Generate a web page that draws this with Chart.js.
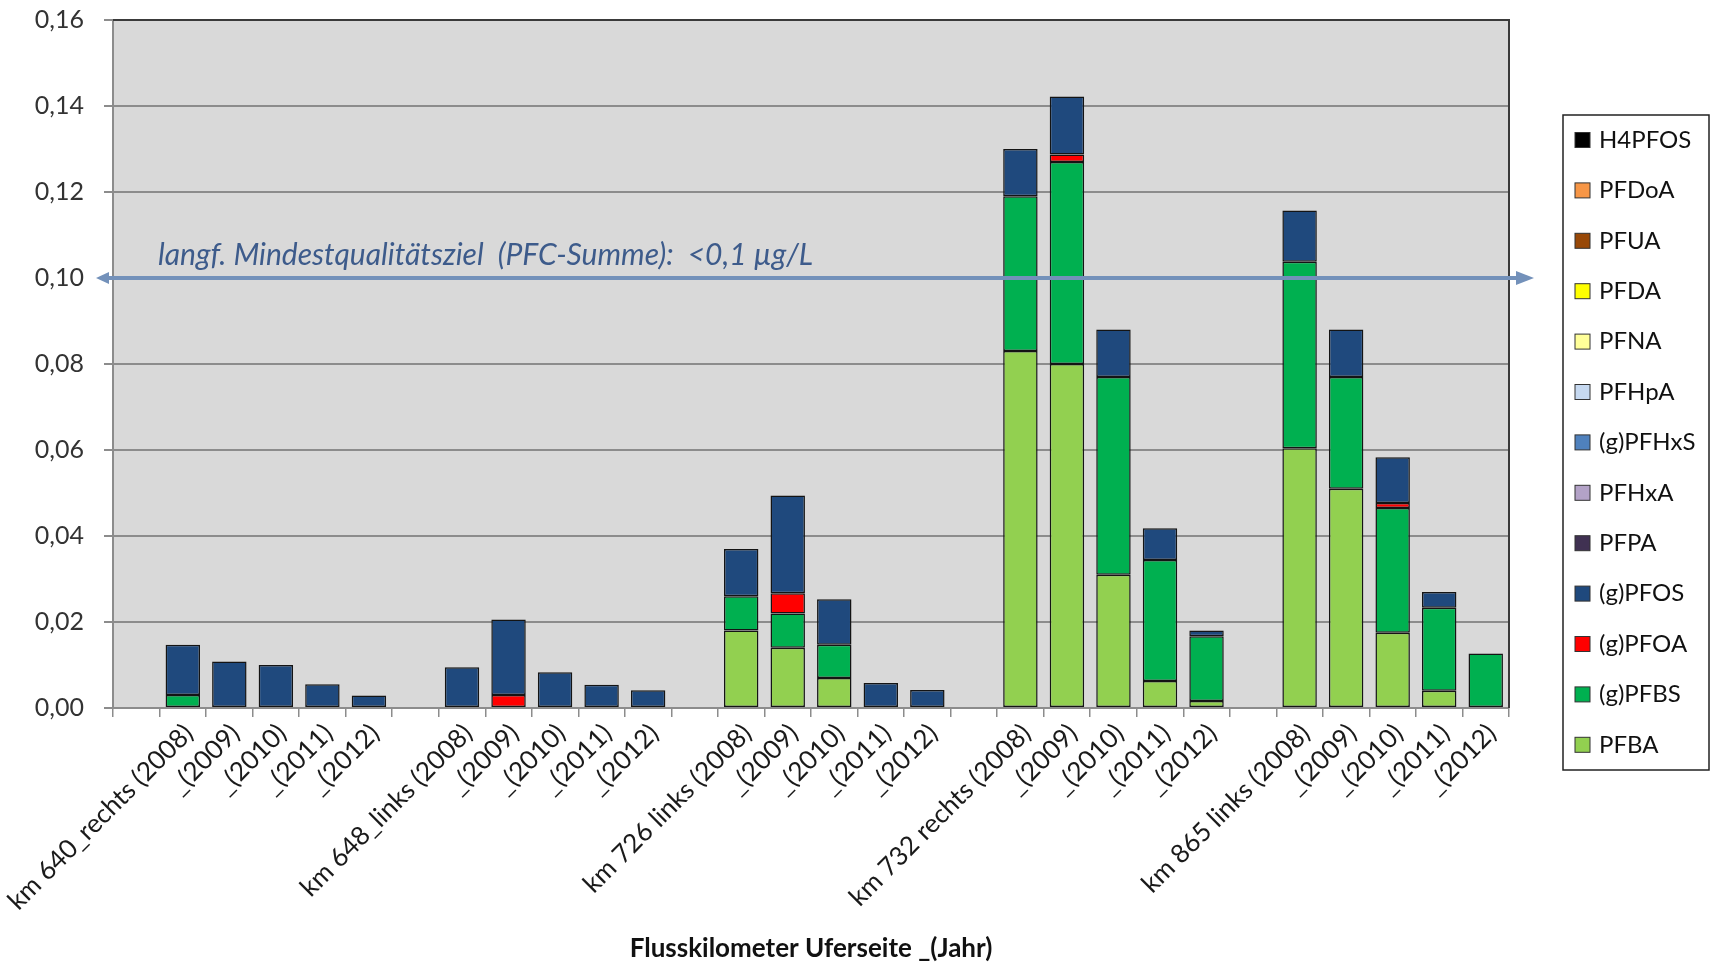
<!DOCTYPE html>
<html>
<head>
<meta charset="utf-8">
<script src="https://cdn.jsdelivr.net/npm/chart.js@4.4.1/dist/chart.umd.min.js"></script>
<style>
  html, body { margin: 0; padding: 0; background: #ffffff; }
  #wrap { width: 1712px; height: 966px; position: relative; }
</style>
</head>
<body>
<div id="wrap"><canvas id="c" width="1712" height="966"></canvas></div>
<script>
// ---------- DATA ----------
const categories = [
  "",
  "km 640_rechts (2008)", "_(2009)", "_(2010)", "_(2011)", "_(2012)",
  "",
  "km 648_links (2008)", "_(2009)", "_(2010)", "_(2011)", "_(2012)",
  "",
  "km 726 links (2008)", "_(2009)", "_(2010)", "_(2011)", "_(2012)",
  "",
  "km 732 rechts (2008)", "_(2009)", "_(2010)", "_(2011)", "_(2012)",
  "",
  "km 865 links (2008)", "_(2009)", "_(2010)", "_(2011)", "_(2012)"
];

const PFBA = [null,
  null, null, null, null, null, null,
  null, null, null, null, null, null,
  0.018, 0.014, 0.007, null, null, null,
  0.083, 0.080, 0.031, 0.0063, 0.0016, null,
  0.0604, 0.051, 0.0175, 0.004, null];

const gPFBS = [null,
  0.003, null, null, null, null, null,
  null, null, null, null, null, null,
  0.008, 0.008, 0.0077, null, null, null,
  0.036, 0.047, 0.046, 0.0281, 0.0151, null,
  0.0434, 0.026, 0.029, 0.0193, 0.0127];

const gPFOA = [null,
  null, null, null, null, null, null,
  null, 0.003, null, null, null, null,
  null, 0.0047, null, null, null, null,
  null, 0.0017, null, null, null, null,
  null, null, 0.0012, null, null];

const gPFOS = [null,
  0.0117, 0.0108, 0.0100, 0.0055, 0.0029, null,
  0.0095, 0.0176, 0.0083, 0.0054, 0.0041, null,
  0.011, 0.0227, 0.0106, 0.0058, 0.0042, null,
  0.011, 0.0135, 0.011, 0.0074, 0.0013, null,
  0.0119, 0.011, 0.0106, 0.0037, null];

// substances with no visible contribution in the chart
const PFPA = [];
const PFHxA = [];
const gPFHxS = [];
const PFHpA = [];
const PFNA = [];
const PFDA = [];
const PFUA = [];
const PFDoA = [];
const H4PFOS = [];

const seriesNames = ["PFBA", "(g)PFBS", "(g)PFOA", "(g)PFOS", "PFPA", "PFHxA", "(g)PFHxS",
                     "PFHpA", "PFNA", "PFDA", "PFUA", "PFDoA", "H4PFOS"];
const seriesData = [PFBA, gPFBS, gPFOA, gPFOS, PFPA, PFHxA, gPFHxS, PFHpA, PFNA, PFDA, PFUA, PFDoA, H4PFOS];
const seriesColors = ["#92d050", "#00b050", "#ff0000", "#1f497d", "#403152", "#b3a2c7", "#4f81bd",
                      "#c6d9f1", "#ffff99", "#ffff00", "#984807", "#f79646", "#000000"];

const yMin = 0, yMax = 0.16, yStep = 0.02;
const thresholdValue = 0.10;
const thresholdText = "langf. Mindestqualitätsziel  (PFC-Summe):  <0,1 µg/L";
const xTitle = "Flusskilometer Uferseite _(Jahr)";

// ---------- CHART ----------
const FONT = "Lato, 'Open Sans', 'DejaVu Sans', sans-serif";

const datasets = seriesNames.map((name, i) => ({
  label: name,
  data: seriesData[i],
  backgroundColor: seriesColors[i],
  borderColor: "#141414",
  borderWidth: 1.5,
  borderSkipped: false,
  categoryPercentage: 1.0,
  barPercentage: 0.74
}));

const decor = {
  id: "decor",
  beforeDraw(chart) {
    const { ctx, chartArea: a } = chart;
    ctx.save();
    ctx.fillStyle = "#ffffff";
    ctx.fillRect(0, 0, chart.width, chart.height);
    ctx.fillStyle = "#d9d9d9";
    ctx.fillRect(a.left, a.top, a.right - a.left, a.bottom - a.top);
    ctx.restore();
  },
  afterDatasetsDraw(chart) {
    const { ctx, chartArea: a } = chart;
    const y = chart.scales.y;
    ctx.save();
    // plot frame: top and right
    ctx.strokeStyle = "#3a3a3a";
    ctx.lineWidth = 2;
    ctx.beginPath();
    ctx.moveTo(a.left, a.top);
    ctx.lineTo(a.right, a.top);
    ctx.lineTo(a.right, a.bottom);
    ctx.stroke();

    // threshold double arrow
    const ty = Math.round(y.getPixelForValue(thresholdValue));
    const x0 = a.left - 17, x1 = a.right + 25;
    ctx.strokeStyle = "#7391ba";
    ctx.fillStyle = "#7391ba";
    ctx.lineWidth = 4;
    ctx.beginPath();
    ctx.moveTo(x0 + 10, ty);
    ctx.lineTo(x1 - 14, ty);
    ctx.stroke();
    ctx.beginPath();
    ctx.moveTo(x0, ty); ctx.lineTo(x0 + 13, ty - 6); ctx.lineTo(x0 + 13, ty + 6); ctx.closePath();
    ctx.fill();
    ctx.beginPath();
    ctx.moveTo(x1, ty); ctx.lineTo(x1 - 18, ty - 7); ctx.lineTo(x1 - 18, ty + 7); ctx.closePath();
    ctx.fill();

    ctx.font = "italic 30px " + FONT;
    ctx.fillStyle = "#3d5b8b";
    ctx.textAlign = "left";
    ctx.textBaseline = "alphabetic";
    ctx.fillText(thresholdText, a.left + 45, ty - 13);
    ctx.restore();
  },
  afterDraw(chart) {
    const { ctx } = chart;
    const ds = chart.data.datasets;
    const boxL = 1563, boxT = 115, boxW = 146, boxH = 655;
    ctx.save();
    ctx.fillStyle = "#ffffff";
    ctx.fillRect(boxL, boxT, boxW, boxH);
    ctx.strokeStyle = "#222";
    ctx.lineWidth = 1.5;
    ctx.strokeRect(boxL, boxT, boxW, boxH);
    ctx.font = "24px " + FONT;
    ctx.textBaseline = "middle";
    ctx.textAlign = "left";
    const n = ds.length;
    for (let k = 0; k < n; k++) {
      const d = ds[n - 1 - k];
      const cy = boxT + 25 + k * 50.4;
      ctx.fillStyle = d.backgroundColor;
      ctx.fillRect(boxL + 12, cy - 7.5, 15, 15);
      ctx.strokeStyle = "#333";
      ctx.lineWidth = 1;
      ctx.strokeRect(boxL + 12, cy - 7.5, 15, 15);
      ctx.fillStyle = "#111";
      ctx.fillText(d.label, boxL + 36, cy);
    }
    ctx.restore();
  }
};

new Chart(document.getElementById("c"), {
  type: "bar",
  data: { labels: categories, datasets },
  plugins: [decor],
  options: {
    responsive: false,
    animation: false,
    layout: { padding: { top: 20, right: 203, bottom: 0, left: 0 } },
    plugins: { legend: { display: false }, tooltip: { enabled: false } },
    scales: {
      x: {
        stacked: true,
        grid: { offset: true, drawOnChartArea: false, drawTicks: true, tickLength: 9, color: "#8c8c8c", lineWidth: 1.5 },
        border: { display: true, color: "#8c8c8c", width: 2 },
        ticks: {
          autoSkip: false, maxRotation: 45, minRotation: 45,
          font: { family: FONT, size: 26 }, color: "#1a1a1a",
          padding: 1, labelOffset: 6
        },
        title: {
          display: true, text: xTitle,
          font: { family: FONT, size: 26, weight: "bold" }, color: "#111",
          padding: { top: 0, bottom: 2 }
        },
        afterFit: (s) => { s.height = 258; s.paddingLeft = 0; s.paddingRight = 0; }
      },
      y: {
        stacked: true, min: yMin, max: yMax,
        ticks: {
          stepSize: yStep,
          callback: (v) => Number(v).toFixed(2).replace(".", ","),
          font: { family: FONT, size: 25 }, color: "#333", padding: 20
        },
        grid: { color: "#8c8c8c", lineWidth: 2, tickLength: 9, drawTicks: true },
        border: { display: true, color: "#8c8c8c", width: 2 },
        afterFit: (s) => { s.width = 113; s.paddingTop = 0; s.paddingBottom = 0; }
      }
    }
  }
});
</script>
</body>
</html>
